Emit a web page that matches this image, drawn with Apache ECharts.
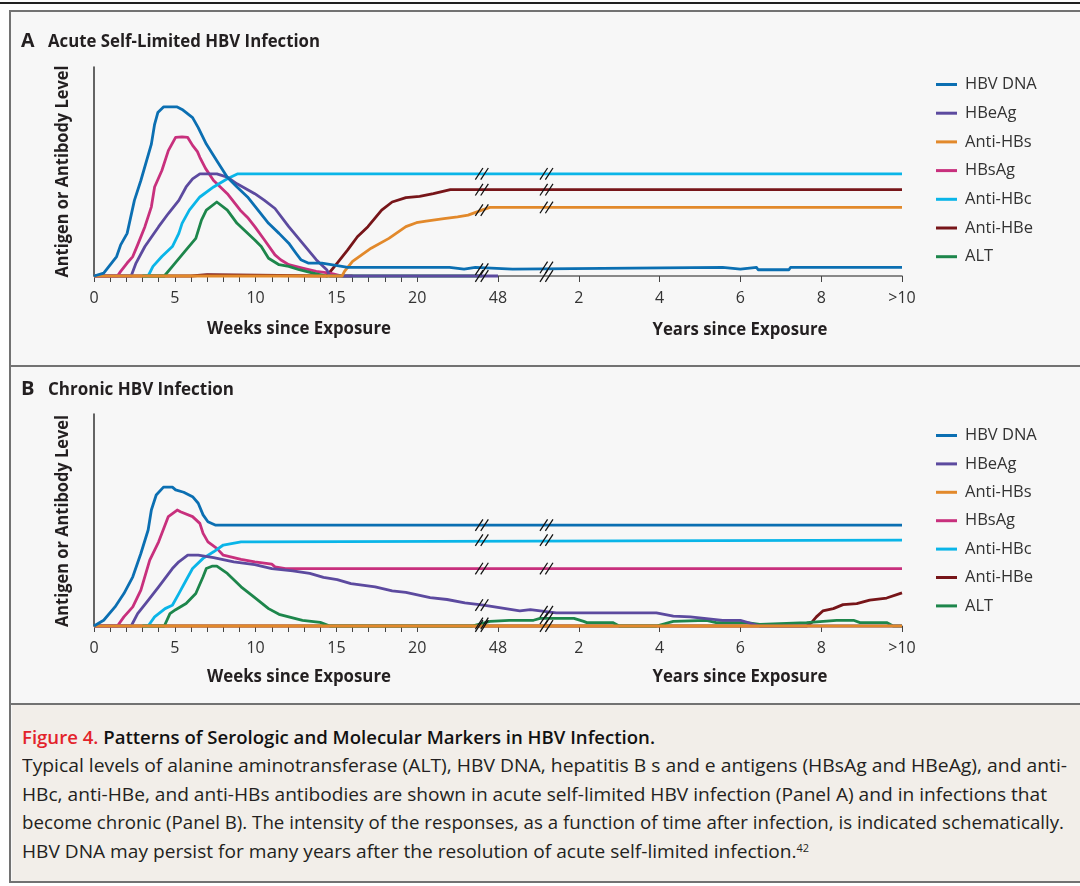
<!DOCTYPE html>
<html>
<head>
<meta charset="utf-8">
<script src="https://cdn.jsdelivr.net/npm/echarts@6/dist/echarts.min.js"></script>
<style>
html,body{margin:0;padding:0;width:1080px;height:886px;background:#ffffff;overflow:hidden;}
#topline{position:absolute;left:0;top:2px;width:1080px;height:1.5px;background:#222;}
#box{position:absolute;left:9px;top:10px;width:1100px;height:873px;border:2.5px solid #727272;box-sizing:border-box;background:#f7f7f7;}
#divAB{position:absolute;left:9px;top:364.5px;width:1100px;height:2px;background:#727272;}
#capbg{position:absolute;left:11.5px;top:705px;width:1100px;height:175.5px;background:#f2eee9;}
#divBC{position:absolute;left:9px;top:703px;width:1100px;height:2px;background:#727272;}
#chart{position:absolute;left:0;top:0;width:1080px;height:700px;}
.cap{position:absolute;left:22px;white-space:nowrap;font-family:'Open Sans',sans-serif;line-height:24px;transform-origin:0 50%;color:#231f20;}
.cap.t{font-size:18px;font-weight:600;color:#111;}
.cap.b{font-size:17.5px;font-weight:400;}
.red{color:#e3232b;}
sup{font-size:10px;line-height:0;vertical-align:6px;}
</style>
</head>
<body>
<div id="topline"></div>
<div id="box"></div>
<div id="capbg"></div>
<div id="divAB"></div>
<div id="divBC"></div>
<div id="chart"></div>
<div class="cap t" data-w="633" style="top:725px"><span class="red">Figure 4.</span> Patterns of Serologic and Molecular Markers in HBV Infection.</div>
<div class="cap b" data-w="1045" style="top:753px">Typical levels of alanine aminotransferase (ALT), HBV DNA, hepatitis B s and e antigens (HBsAg and HBeAg), and anti-</div>
<div class="cap b" data-w="1025" style="top:782px">HBc, anti-HBe, and anti-HBs antibodies are shown in acute self-limited HBV infection (Panel A) and in infections that</div>
<div class="cap b" data-w="1042" style="top:810px">become chronic (Panel B). The intensity of the responses, as a function of time after infection, is indicated schematically.</div>
<div class="cap b" data-w="787" style="top:839px">HBV DNA may persist for many years after the resolution of acute self-limited infection.<sup>42</sup></div>
<script>
// ---------- DATA ----------
// x = position on the time line: weeks 0–24 as weeks; 25 = 48 wk; 30,35,40,45,50 = 2,4,6,8,>10 yr
const tickLabels = ['0','5','10','15','20','48','2','4','6','8','>10'];
const seriesNames = ['HBV DNA','HBeAg','Anti-HBs','HBsAg','Anti-HBc','Anti-HBe','ALT'];
const breakPositions = [24, 28];

// Panel A: acute self-limited infection (relative level 0-100)
const acuteDNA = [[0,0],[0.6,1.4],[1.4,9.3],[1.65,14.9],[2.05,20.4],[2.5,36.2],[2.9,45.7],[3.55,63.1],[3.75,72.6],[3.95,78.2],[4.3,80.9],[5.15,80.9],[5.45,79.7],[6.1,75.8],[6.45,71],[6.95,63.1],[7.6,55.2],[8.25,47.3],[8.85,42.6],[9.5,37.8],[10.15,31.5],[10.8,25.2],[11.45,20.4],[12.05,15.7],[12.5,10.9],[12.8,7.8],[13.25,6.2],[14.1,6.2],[15.15,4.9],[15.7,4.1],[22,4.1],[22.1,3.3],[22.9,3.3],[23.0,4.1],[23.6,4.1],[23.7,3.3],[25.9,3.3],[26,4.1],[38.9,4.1],[39,3.3],[40,3.3],[40.1,4.1],[41,4.1],[41.1,3.0],[43,3.0],[43.1,4.1],[50,4.1]];
const acuteHBeAg = [[0,0],[2.3,0],[2.6,6.2],[3.15,14.1],[4,23.6],[4.6,29.9],[5.25,36.2],[5.7,42.6],[6.1,46.5],[6.55,48.9],[7.6,48.9],[8.25,47.3],[8.85,44.1],[9.95,39.4],[10.55,36.2],[11.2,32.3],[12.05,23.6],[12.9,15.7],[13.75,7.8],[14.4,3],[14.6,0],[25,0]];
const acuteAntiHBs = [[0,0],[15.35,0],[15.5,2.2],[16,7],[17.15,13.3],[18.25,18],[19.3,23.6],[19.95,25.5],[20.55,26.3],[21.65,27.5],[22.5,28.3],[23.15,29.1],[24,31.5],[24.5,32.8],[50,32.8]];
const acuteHBsAg = [[0,0],[1.45,0],[1.65,2.2],[2.05,6.2],[2.4,9.3],[2.7,14.9],[3.15,23.6],[3.55,33.1],[3.75,42.6],[4.2,50.5],[4.6,60],[5.05,66.3],[5.45,66.6],[5.8,66.3],[6.1,62.5],[6.4,59.5],[6.55,56.8],[6.9,51.5],[7.4,45.7],[8.25,39.4],[9.05,31.5],[9.5,28],[9.95,23.6],[10.55,17.2],[11.2,10.1],[11.55,7.8],[12.05,5.4],[12.9,3.8],[13.75,2.2],[14.6,1.4],[15.35,0],[16,0]];
const acuteAntiHBc = [[3,0],[3.35,0],[3.65,4.6],[4.2,9.3],[4.85,14.1],[5.25,20.4],[5.45,25.2],[5.9,31.5],[6.55,37.8],[7.4,42.6],[8.25,46.5],[8.9,48.9],[50,48.9]];
const acuteAntiHBe = [[0,0],[6,0],[6.05,0.6],[7,0.6],[7.05,0],[14.4,0],[15.05,6.2],[15.7,12.5],[16.3,18.8],[16.95,23.6],[17.8,31.5],[18.45,35.4],[19.3,37.5],[20.15,38.1],[21,39.4],[22.05,41.3],[50,41.3]];
const acuteALT = [[3,0],[4.35,0],[4.85,4.6],[5.7,12.5],[6.3,18],[6.65,26.7],[6.95,31.5],[7.6,35.4],[8.25,31.5],[8.85,25.2],[9.95,17.2],[10.35,14.1],[10.8,8.5],[11.45,5.4],[12.05,4.6],[12.7,3],[13.55,1.4],[14.4,0],[24,0]];

// Panel B: chronic infection
const chronicDNA = [[0,0],[0.6,2.7],[1.3,9],[1.85,15.3],[2.4,23.2],[2.9,34.2],[3.35,45.3],[3.55,54.7],[3.85,61.8],[4.3,65.5],[4.85,65.5],[5.05,64.2],[5.55,63.1],[6.1,61],[6.45,57.9],[6.75,52.4],[7.05,49.2],[7.5,47.6],[50,47.6]];
const chronicHBeAg = [[0,0],[2.3,0],[2.7,5.8],[3.35,12.1],[4,18.5],[4.85,27.1],[5.25,30.3],[5.8,33.4],[6.45,33.4],[7.4,32.3],[8.65,30.3],[9.95,29],[11,27.1],[12.3,26],[13.35,24.8],[14.2,22.9],[15.05,21.9],[15.9,20],[17.4,18.5],[18.45,16.6],[19.3,15.9],[20.8,13.4],[21.85,12.5],[22.95,10.9],[24.1,9.8],[26.35,7.1],[26.4,7.7],[27,7.7],[28.6,6.2],[34.8,6.2],[35.85,4.7],[36.9,4.3],[38.9,2.7],[40,2.7],[41.2,0],[50,0]];
const chronicAntiHBs = [[0,0],[50,0]];
const chronicHBsAg = [[0,0],[1.45,0],[1.85,4.3],[2.4,9],[2.9,16.9],[3.45,31.1],[4,39.7],[4.6,51.6],[5.15,54.7],[5.35,53.9],[6.1,51.6],[6.55,48.4],[6.75,43.7],[7.05,39.7],[7.6,36.6],[8,33.4],[9.1,31.4],[9.95,30.3],[11,29.2],[11.2,27.9],[11.85,27.1],[50,27.1]];
const chronicAntiHBc = [[3,0],[3.35,0],[3.75,4.3],[4.4,8.2],[4.85,9.8],[5.25,15.3],[5.7,21.6],[6.1,27.1],[6.75,31.9],[7.4,35],[8,38.2],[9.1,39.7],[9.95,39.7],[10.05,40.5],[50,40.5]];
const chronicAntiHBe = [[0,0],[44.1,0],[44.4,1.6],[44.7,4.3],[45.1,7.1],[45.75,8.2],[46.35,10.1],[47.2,10.6],[48,12.2],[49.05,13.2],[50,15.6]];
const chronicALT = [[3,0],[4.35,0],[4.7,5.8],[5.05,7.7],[5.7,10.6],[6.3,15.3],[6.75,23.2],[6.95,27.1],[7.3,28.2],[7.6,28.2],[8.25,24.8],[9.1,18.5],[9.95,13.4],[10.8,8.2],[11.45,5.5],[12.05,4.3],[12.9,2.7],[14,1.7],[14.6,0],[23.4,0],[24.5,2.2],[25.7,2.7],[27.2,2.7],[27.6,3.6],[29.7,3.6],[30.3,2.2],[30.5,1.6],[32.1,1.6],[32.5,0],[34.8,0],[35.85,2.2],[37.9,2.7],[38.5,1.6],[40.4,1.6],[41.2,0.8],[44.1,1.6],[45.95,2.7],[47,2.7],[47.4,1.6],[49.05,1.6],[49.45,0],[50,0]];

// ---------- STYLE ----------
const colors = {'HBV DNA':'#0b6fb2','HBeAg':'#5c4a9f','Anti-HBs':'#e2892b','HBsAg':'#c8307d','Anti-HBc':'#0ab5e8','Anti-HBe':'#771519','ALT':'#1d864b'};
const zOrder = {'HBV DNA':6,'HBeAg':3.5,'Anti-HBs':4,'HBsAg':3,'Anti-HBc':3,'Anti-HBe':2,'ALT':3};
const FONT = "'Open Sans', sans-serif";
const panels = [
  {data:[acuteDNA,acuteHBeAg,acuteAntiHBs,acuteHBsAg,acuteAntiHBc,acuteAntiHBe,acuteALT], grid:{left:94,top:67,width:808,height:209}, legendTop:74.5, legendGap:8.7},
  {data:[chronicDNA,chronicHBeAg,chronicAntiHBs,chronicHBsAg,chronicAntiHBc,chronicAntiHBe,chronicALT], grid:{left:94,top:414,width:808,height:212}, legendTop:425.5, legendGap:8.4}
];

function valueAt(d, x){
  for (let i=0;i<d.length-1;i++){
    if (d[i][0]<=x && d[i+1][0]>=x){
      const t = (x-d[i][0])/((d[i+1][0]-d[i][0])||1);
      return d[i][1]+t*(d[i+1][1]-d[i][1]);
    }
  }
  return null;
}

const measureCtx = document.createElement('canvas').getContext('2d');
function fitScale(text, font, target){
  measureCtx.font = font;
  return target / measureCtx.measureText(text).width;
}

const weekTicks = [];
for (let w=0; w<=20; w++) weekTicks.push(w);
const majorTicks = [25,30,35,40,45,50];

const grids=[], xAxes=[], yAxes=[], legends=[], series=[];
panels.forEach((p, i) => {
  grids.push(Object.assign({containLabel:false}, p.grid));
  xAxes.push({
    type:'value', gridIndex:i, min:0, max:50, interval:5,
    axisLine:{show:true, onZero:false, lineStyle:{color:'#666', width:1.5}},
    axisTick:{show:true, customValues:weekTicks.concat(majorTicks), length:6, lineStyle:{color:'#444', width:1}},
    axisLabel:{formatter:v => tickLabels[Math.round(v/5)], fontSize:16, color:'#333', margin:14, fontFamily:FONT, showMaxLabel:true, showMinLabel:true},
    splitLine:{show:false}
  });
  yAxes.push({
    type:'value', gridIndex:i, min:0, max:100,
    axisLine:{show:true, lineStyle:{color:'#333', width:1.5}},
    axisTick:{show:false}, axisLabel:{show:false}, splitLine:{show:false}
  });
  legends.push({
    orient:'vertical', left:936, top:p.legendTop, padding:0, icon:'rect', itemWidth:21, itemHeight:3,
    itemGap:p.legendGap, data:seriesNames.slice(),
    textStyle:{fontSize:16.5, color:'#333', fontFamily:FONT, lineHeight:20, padding:[0,0,0,3]}
  });
  seriesNames.forEach((name, k) => {
    series.push({
      type:'line', name, xAxisIndex:i, yAxisIndex:i, data:p.data[k],
      showSymbol:false, symbol:'none', clip:false, animation:false,
      z: zOrder[name],
      lineStyle:{width:2.8, color:colors[name], cap:'butt', join:'round'},
      itemStyle:{color:colors[name]}
    });
  });
  // axis break marks: on the axis and on every line that is above the axis there
  const marks = [];
  breakPositions.forEach(bx => {
    marks.push([bx, 0]);
    p.data.forEach(d => { const v = valueAt(d, bx); if (v !== null && v > 0.5) marks.push([bx, v]); });
  });
  series.push({
    type:'custom', xAxisIndex:i, yAxisIndex:i, data:marks, z:10, clip:false, silent:true, animation:false,
    renderItem:(params, api) => {
      const c = api.coord([api.value(0), api.value(1)]);
      const children = [-2.7, 2.7].map(k => ({type:'line', shape:{x1:c[0]+k-3.8, y1:c[1]+5.8, x2:c[0]+k+3.8, y2:c[1]-5.8}, style:{stroke:'#111', lineWidth:1.25}}));
      return {type:'group', children};
    }
  });
});

// texts
const titleFont = "700 18px 'Open Sans'";
const nameFont = "700 17px 'Open Sans'";
function txt(text, x, y, font, opts){
  return Object.assign({type:'text', x, y, style:{text, font, fill:'#231f20', align:'left', verticalAlign:'middle'}}, opts||{});
}
const graphics = [];
[['A','Acute Self-Limited HBV Infection',41.5,272, 171.5, 212],['B','Chronic HBV Infection',389.5,186, 521, 212]].forEach((t, i) => {
  graphics.push(txt(t[0], 21, t[2], "700 19px 'Open Sans'", {scaleX:fitScale(t[0],"700 19px 'Open Sans'",13.5)}));
  graphics.push(txt(t[1], 48, t[2], titleFont, {scaleX:fitScale(t[1], titleFont, t[3])}));
  const yName = 'Antigen or Antibody Level';
  const ys = fitScale(yName, nameFont, t[5]);
  graphics.push({type:'text', x:63, y:t[4], rotation:Math.PI/2, scaleX:ys, style:{text:yName, font:nameFont, fill:'#231f20', align:'center', verticalAlign:'middle'}});
  const yOff = i===0 ? 0 : 348;
  const wk = 'Weeks since Exposure', yr = 'Years since Exposure';
  graphics.push({type:'text', x:299, y:329.5+yOff, scaleX:fitScale(wk,nameFont,184), style:{text:wk, font:nameFont, fill:'#231f20', align:'center', verticalAlign:'middle'}});
  graphics.push({type:'text', x:740, y:330+yOff - (i===0?0:1), scaleX:fitScale(yr,nameFont,175), style:{text:yr, font:nameFont, fill:'#231f20', align:'center', verticalAlign:'middle'}});
});

const chart = echarts.init(document.getElementById('chart'), null, {renderer:'canvas'});
chart.setOption({
  backgroundColor:'transparent', animation:false,
  grid:grids, xAxis:xAxes, yAxis:yAxes, legend:legends, series, graphic:graphics
});

// caption line fitting
document.querySelectorAll('.cap').forEach(el => {
  const w = el.getBoundingClientRect().width;
  const target = parseFloat(el.dataset.w);
  el.style.transform = 'scaleX(' + (target / w) + ')';
});
</script>
</body>
</html>
